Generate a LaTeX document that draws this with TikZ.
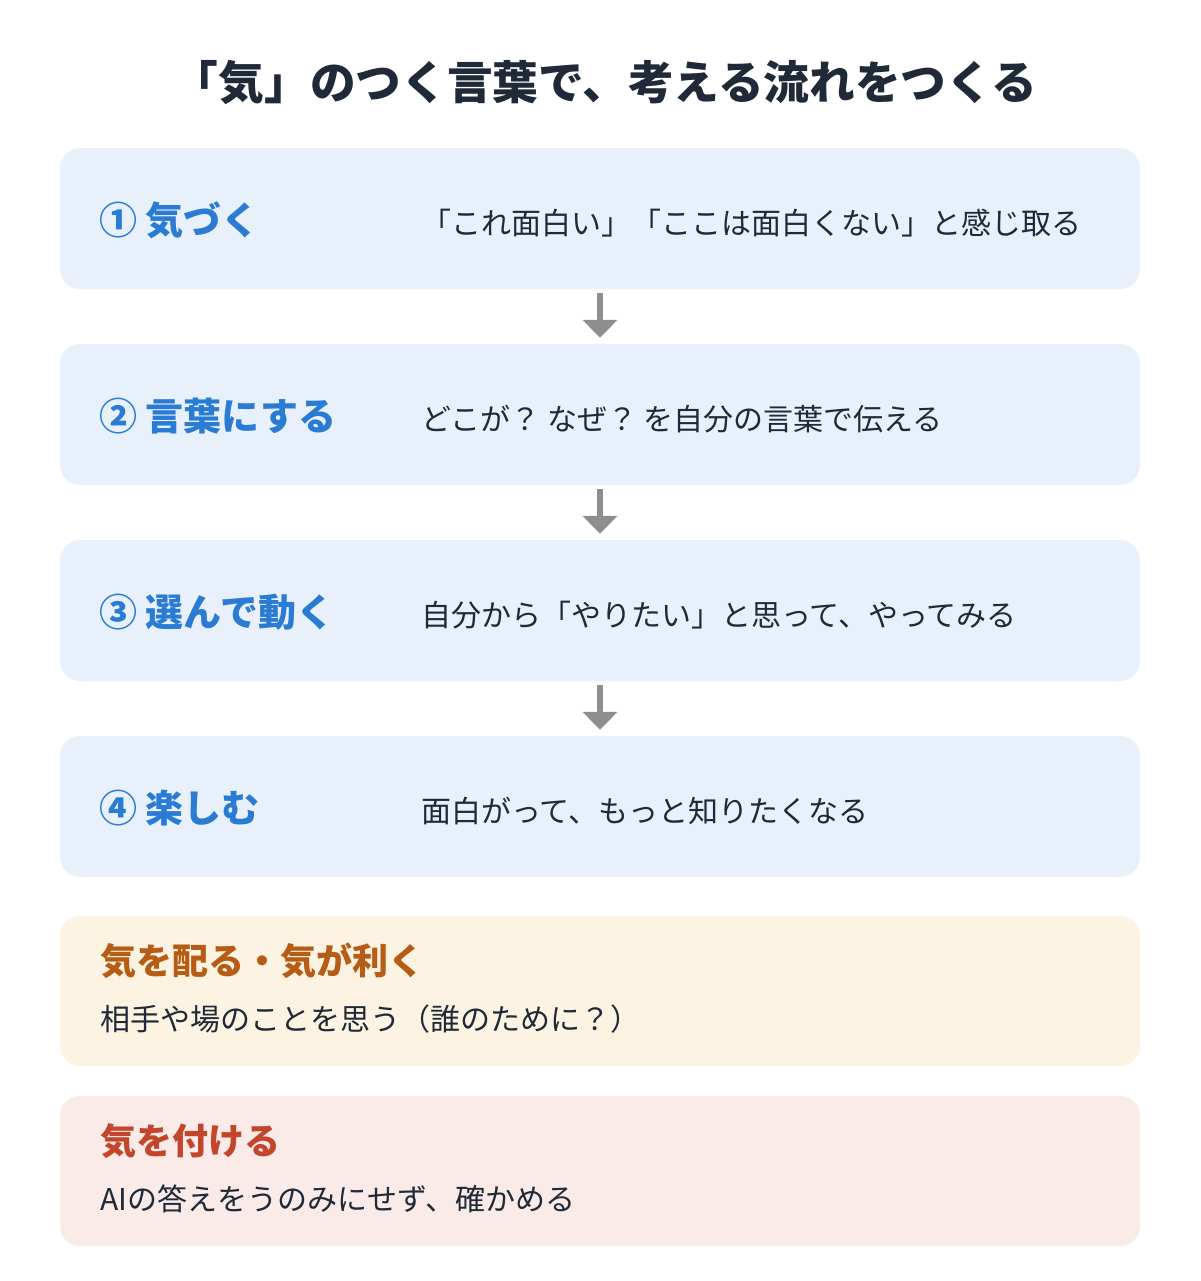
\documentclass[tikz,border=0pt]{standalone}
\usepackage{fontspec}
\setmainfont{Noto Sans CJK JP}
\usetikzlibrary{arrows.meta}
\definecolor{ink}{HTML}{1F2937}
\definecolor{stepblue}{HTML}{2A7BD4}
\definecolor{stepfill}{HTML}{E8F1FB}
\definecolor{orfill}{HTML}{FCF3E2}
\definecolor{ortext}{HTML}{B65C14}
\definecolor{rdfill}{HTML}{FBEBE8}
\definecolor{rdtext}{HTML}{C2452C}
\definecolor{arrowgray}{HTML}{8E8E8E}
\tikzset{
  x=1pt, y=-1pt,
  panel/.style={rounded corners=20pt, minimum width=1080pt, inner sep=0pt, draw=none},
  stepbox/.style={panel, fill=stepfill, minimum height=141pt},
  notebox/.style={panel, minimum height=150pt},
  steptitle/.style={anchor=west, inner sep=0pt, text=stepblue, font=\fontsize{38}{42}\selectfont\bfseries},
  stepdesc/.style={anchor=west, inner sep=0pt, text=ink, font=\fontsize{30}{34}\selectfont},
  notetitle/.style={anchor=west, inner sep=0pt, font=\fontsize{36}{40}\selectfont\bfseries},
  flowarrow/.style={draw=arrowgray, line width=6pt, -{Triangle[width=34pt,length=18pt]}, shorten <=4pt, shorten >=6pt},
}
\begin{document}
\begin{tikzpicture}
\useasboundingbox (0,0) rectangle (1200,1281);
\node[inner sep=0pt, text=ink, font=\fontsize{45.7}{50}\selectfont\bfseries] (title) at (605,82) {「気」のつく言葉で、考える流れをつくる};

\node[stepbox] (s1) at (600,218.5) {};
\node[stepbox] (s2) at (600,414.5) {};
\node[stepbox] (s3) at (600,610.5) {};
\node[stepbox] (s4) at (600,806.5) {};

\node[steptitle] (t1) at (99,220) {① 気づく};
\node[stepdesc] (d1) at (421,223) {「これ面白い」「ここは面白くない」と感じ取る};
\node[steptitle] (t2) at (99,416) {② 言葉にする};
\node[stepdesc] (d2) at (421,419) {どこが？ なぜ？ を自分の言葉で伝える};
\node[steptitle] (t3) at (99,612) {③ 選んで動く};
\node[stepdesc] (d3) at (421,615) {自分から「やりたい」と思って、やってみる};
\node[steptitle] (t4) at (99,808) {④ 楽しむ};
\node[stepdesc] (d4) at (421,811) {面白がって、もっと知りたくなる};

\draw[flowarrow] (s1) -- (s2);
\draw[flowarrow] (s2) -- (s3);
\draw[flowarrow] (s3) -- (s4);

\node[notebox, fill=orfill] (n1) at (600,991) {};
\node[notetitle, text=ortext] (n1t) at (100,961) {気を配る・気が利く};
\node[stepdesc] (n1d) at (100,1019) {相手や場のことを思う（誰のために？）};

\node[notebox, fill=rdfill] (n2) at (600,1171) {};
\node[notetitle, text=rdtext] (n2t) at (100,1141) {気を付ける};
\node[stepdesc] (n2d) at (100,1199) {AIの答えをうのみにせず、確かめる};
\end{tikzpicture}
\end{document}
